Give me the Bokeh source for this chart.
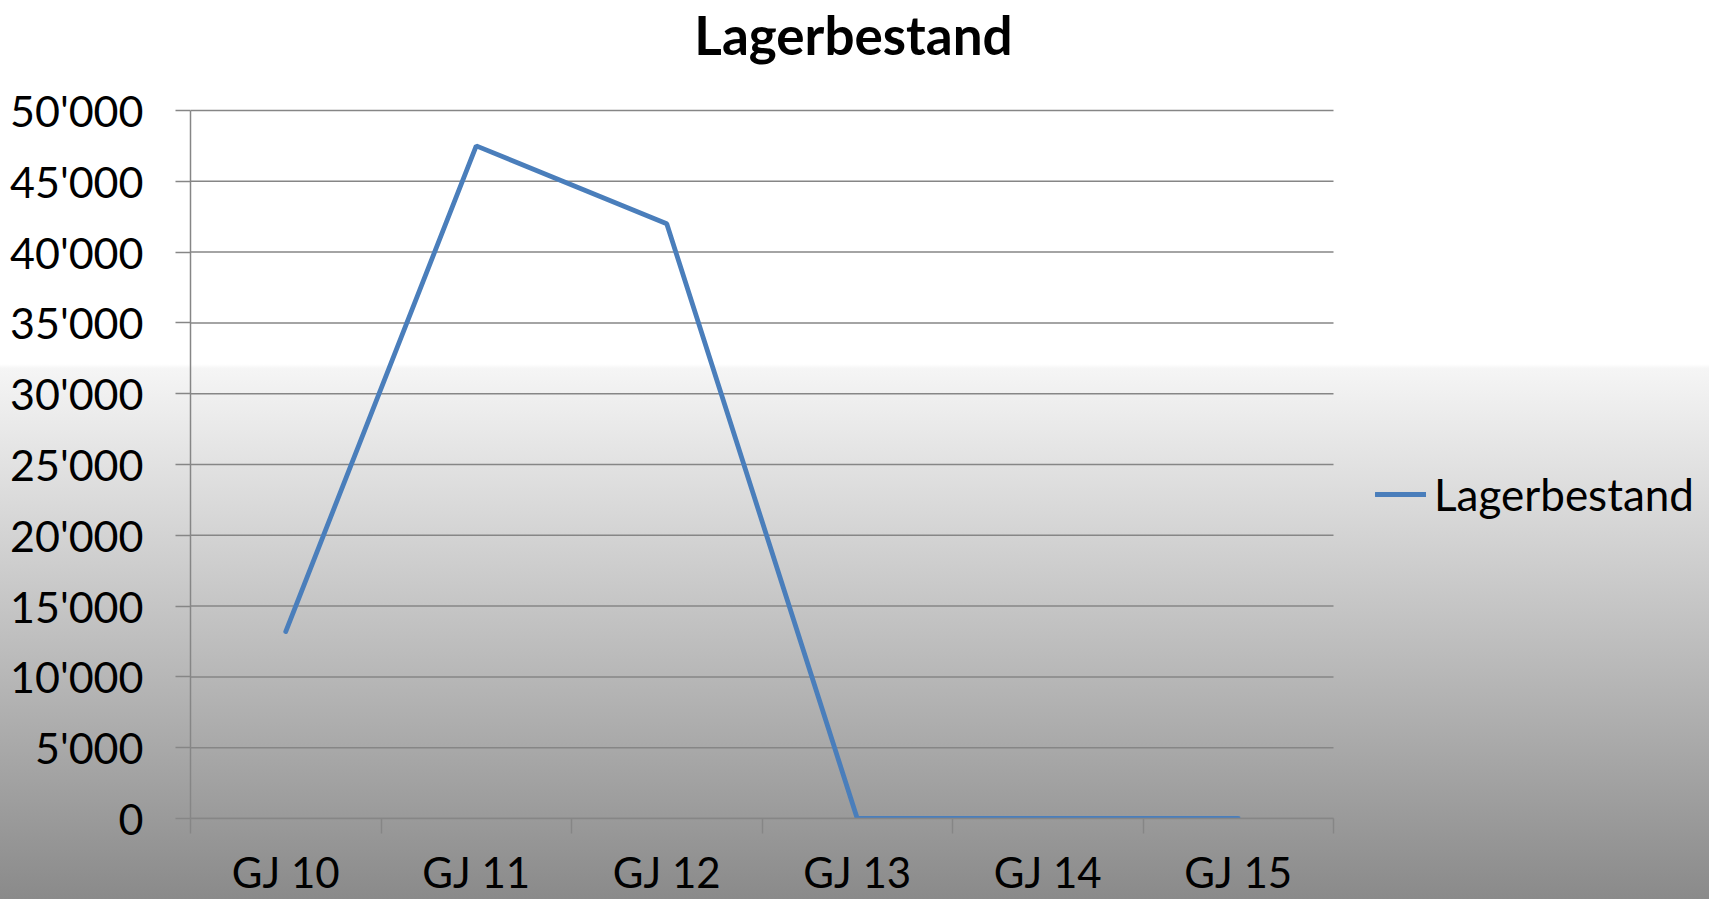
from bokeh.plotting import figure
from bokeh.models import FixedTicker, Range1d, Legend, LegendItem, Label
from bokeh.embed import file_html
from bokeh.resources import INLINE

categories = ["GJ 10", "GJ 11", "GJ 12", "GJ 13", "GJ 14", "GJ 15"]
values = [13200, 47500, 42000, 0, 0, 0]
y_ticks = [0, 5000, 10000, 15000, 20000, 25000, 30000, 35000, 40000, 45000, 50000]
series_name = "Lagerbestand"
title_text = "Lagerbestand"

FONT = "Lato"
GRID = "#868686"

W, H = 1709, 899
LEFT, BOTTOM = 190, 81          # panel sizes
PLOT_RIGHT, PLOT_TOP = 1333, 110  # where the category axis ends / top gridline sits

n = len(categories)
x = [i + 0.5 for i in range(n)]
frame_w = W - LEFT
frame_h = H - BOTTOM
x_end = n * frame_w / (PLOT_RIGHT - LEFT)
y_end = y_ticks[-1] * frame_h / (frame_h - PLOT_TOP)

p = figure(width=W, height=H, output_backend="svg", toolbar_location=None, title=None,
           x_range=Range1d(0, x_end), y_range=Range1d(0, y_end),
           min_border_left=LEFT, min_border_right=0, min_border_top=0,
           min_border_bottom=BOTTOM)

p.background_fill_alpha = 0
p.border_fill_alpha = 0
p.outline_line_color = None
p.styles = {"background": "linear-gradient(180deg, #ffffff 0%, #ffffff 40.5%, #f5f5f5 41%, #8a8a8a 100%)"}

# y axis
p.yaxis.ticker = FixedTicker(ticks=y_ticks)
p.yaxis.bounds = (y_ticks[0], y_ticks[-1])
p.yaxis.major_label_overrides = {v: f"{v:,}".replace(",", "'") for v in y_ticks}
p.yaxis.major_tick_out = 15
p.yaxis.major_tick_in = 0
p.yaxis.minor_tick_line_color = None
p.yaxis.axis_line_color = GRID
p.yaxis.axis_line_width = 1.5
p.yaxis.major_tick_line_color = GRID
p.yaxis.major_tick_line_width = 1.5
p.yaxis.major_label_standoff = 32
p.yaxis.major_label_text_font = FONT
p.yaxis.major_label_text_font_size = "43px"
p.yaxis.major_label_text_color = "black"

# x axis
p.xaxis.ticker = FixedTicker(ticks=x, minor_ticks=list(range(n + 1)))
p.xaxis.bounds = (0, n)
p.xaxis.major_label_overrides = {xx: c for xx, c in zip(x, categories)}
p.xaxis.major_tick_line_color = None
p.xaxis.major_tick_out = 0
p.xaxis.major_tick_in = 0
p.xaxis.minor_tick_out = 15
p.xaxis.minor_tick_in = 0
p.xaxis.minor_tick_line_color = GRID
p.xaxis.minor_tick_line_width = 1.5
p.xaxis.axis_line_color = GRID
p.xaxis.axis_line_width = 1.5
p.xaxis.major_label_standoff = 13
p.xaxis.major_label_text_font = FONT
p.xaxis.major_label_text_font_size = "42px"
p.xaxis.major_label_text_color = "black"

# horizontal gridlines, limited to the category span
p.xgrid.visible = False
p.ygrid.visible = False
p.segment(x0=[0] * len(y_ticks), x1=[n] * len(y_ticks), y0=y_ticks, y1=y_ticks,
          line_color=GRID, line_width=1.5)

r = p.line(x, values, line_color="#4a7ebb", line_width=4.8, line_cap="round")

# title (centred on the whole chart)
p.add_layout(Label(x=W / 2 - 1.5 - LEFT, y=frame_h - 34, x_units="screen", y_units="screen",
                   text=title_text, text_align="center", text_baseline="alphabetic",
                   text_font=FONT, text_font_size="53px", text_font_style="bold",
                   text_color="black"))

legend = Legend(items=[LegendItem(label=series_name, renderers=[r])],
                location=(1375 - LEFT, frame_h - 520))
legend.background_fill_alpha = 0
legend.border_line_color = None
legend.padding = 0
legend.margin = 0
legend.glyph_width = 51
legend.glyph_height = 40
legend.label_height = 40
legend.label_standoff = 8
legend.label_text_font = FONT
legend.label_text_font_size = "44px"
legend.label_text_color = "black"
p.add_layout(legend)

open("out.html", "w").write(file_html(p, INLINE))
